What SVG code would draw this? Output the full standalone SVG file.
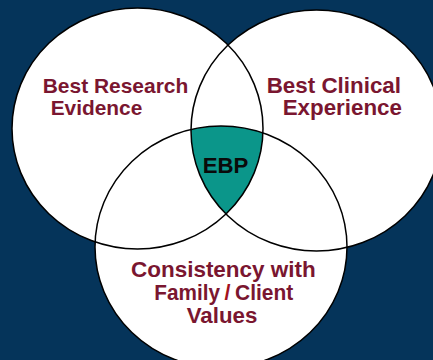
<svg xmlns="http://www.w3.org/2000/svg" width="433" height="360" viewBox="0 0 433 360">
<style>
.bg{fill:#05345a}
.fillw{fill:#ffffff}
.ring{fill:none;stroke:#000000;stroke-width:1.5}
.lbl{font-family:"Liberation Sans",Arial,sans-serif;font-weight:bold;fill:#7a1630}
.ebp{font-family:"Liberation Sans",Arial,sans-serif;font-weight:bold;fill:#0a0a0a}
.slash{fill:#a3121e}
</style>
<defs>
<clipPath id="cL"><ellipse cx="137.5" cy="128.5" rx="125.5" ry="120.5"/></clipPath>
<clipPath id="cR"><ellipse cx="316.5" cy="130.5" rx="125.5" ry="120.5"/></clipPath>
</defs>
<rect class="bg" x="0" y="0" width="433" height="360"/>
<g id="fills">
<ellipse class="fillw" cx="137.5" cy="128.5" rx="125.5" ry="120.5"/>
<ellipse class="fillw" cx="316.5" cy="130.5" rx="125.5" ry="120.5"/>
<ellipse class="fillw" cx="221" cy="247" rx="126" ry="121"/>
</g>
<g id="ebp-region" clip-path="url(#cL)"><g clip-path="url(#cR)">
<ellipse cx="221" cy="247" rx="126" ry="121" fill="#0b968a"/>
</g></g>
<g id="research">
<ellipse class="ring" cx="137.5" cy="128.5" rx="125.5" ry="120.5"/>
</g>
<g id="clinical">
<ellipse class="ring" cx="316.5" cy="130.5" rx="125.5" ry="120.5"/>
</g>
<g id="values">
<ellipse class="ring" cx="221" cy="247" rx="126" ry="121"/>
</g>
<g id="labels">
<text class="lbl" x="42.7" y="92.7" font-size="21" textLength="145.6" lengthAdjust="spacingAndGlyphs">Best Research</text>
<text class="lbl" x="50.7" y="115" font-size="21" textLength="91.6" lengthAdjust="spacingAndGlyphs">Evidence</text>
<text class="lbl" x="266.7" y="92.7" font-size="21.3" textLength="134.3" lengthAdjust="spacingAndGlyphs">Best Clinical</text>
<text class="lbl" x="282.7" y="115" font-size="21.3" textLength="119.3" lengthAdjust="spacingAndGlyphs">Experience</text>
<text class="lbl" x="131" y="276.7" font-size="21.5" textLength="184.7" lengthAdjust="spacingAndGlyphs">Consistency with</text>
<text class="lbl" x="154.3" y="300" font-size="21.5" textLength="65.7" lengthAdjust="spacingAndGlyphs">Family</text>
<text class="lbl slash" x="224.5" y="300" font-size="21.5">/</text>
<text class="lbl" x="235" y="300" font-size="21.5" textLength="58.3" lengthAdjust="spacingAndGlyphs">Client</text>
<text class="lbl" x="186.7" y="323.3" font-size="21.5" textLength="70.6" lengthAdjust="spacingAndGlyphs">Values</text>
<text class="ebp" x="202.7" y="172.7" font-size="22" textLength="45.6" lengthAdjust="spacingAndGlyphs">EBP</text>
</g>
</svg>
